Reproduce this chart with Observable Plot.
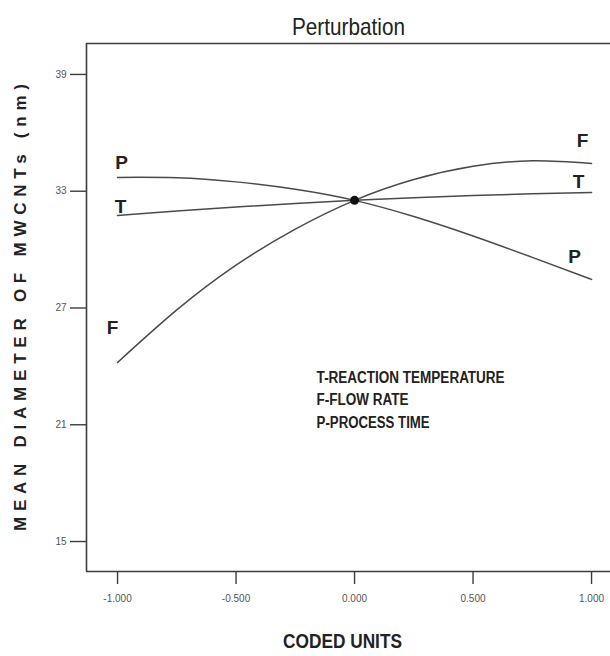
<!DOCTYPE html>
<html>
<head>
<meta charset="utf-8">
<script src="https://cdn.jsdelivr.net/npm/d3@7"></script>
<script src="https://cdn.jsdelivr.net/npm/@observablehq/plot@0.6"></script>
<style>
  html, body { margin: 0; padding: 0; background: #fff; }
  #chart svg { display: block; }
</style>
</head>
<body>
<div id="chart"></div>
<script>
// ---- data ----
const codedUnits = [-1, -0.75, -0.5, -0.25, 0, 0.25, 0.5, 0.75, 1];
const temperature = [31.75, 31.98, 32.19, 32.37, 32.53, 32.67, 32.78, 32.87, 32.94];
const flowRate = [24.2, 26.9, 29.2, 31.05, 32.53, 33.6, 34.28, 34.56, 34.43];
const processTime = [33.71, 33.69, 33.48, 33.1, 32.53, 31.7, 30.7, 29.6, 28.47];
const centerPoint = [{x: 0, y: 32.53}];

const xTicks = [-1, -0.5, 0, 0.5, 1];
const yTicks = [15, 21, 27, 33, 39];
const xDomain = [-1.131, 1.08];
const yDomain = [13.46, 40.59];

// curve end labels (letter, coded unit, value)
const curveLabels = [
  {t: "P", x: -0.983, y: 34.43},
  {t: "T", x: -0.987, y: 32.2},
  {t: "F", x: -1.021, y: 26.0},
  {t: "F", x: 0.962, y: 35.61},
  {t: "T", x: 0.945, y: 33.5},
  {t: "P", x: 0.928, y: 29.6}
];
const legendLines = [
  {t: "T-REACTION TEMPERATURE", x: -0.16, y: 23.43},
  {t: "F-FLOW RATE", x: -0.16, y: 22.3},
  {t: "P-PROCESS TIME", x: -0.16, y: 21.12}
];
const titleText = "Perturbation";
const xLabel = "CODED UNITS";
const yLabel = "MEAN DIAMETER OF MWCNTs (nm)";

const series = [
  {name: "T", values: temperature},
  {name: "F", values: flowRate},
  {name: "P", values: processTime}
];
const lineData = series.flatMap(s => codedUnits.map((x, i) => ({series: s.name, x, y: s.values[i]})));

const sans = "'Liberation Sans', Arial, sans-serif";
const axisColor = "#3c3c3c";

const chart = Plot.plot({
  width: 610,
  height: 656,
  marginTop: 43,
  marginBottom: 85,
  marginLeft: 86,
  marginRight: 0,
  style: {fontFamily: sans, background: "#fff"},
  x: {domain: xDomain},
  y: {domain: yDomain},
  marks: [
    Plot.ruleX([xDomain[0]], {stroke: axisColor, strokeWidth: 1.6}),
    Plot.ruleY([yDomain[0], yDomain[1]], {stroke: axisColor, strokeWidth: 1.6}),
    Plot.axisY({ticks: yTicks, tickSize: 16, tickPadding: 4, fontSize: 10, label: null,
      stroke: axisColor, strokeWidth: 1.4, fill: "#555"}),
    Plot.axisX({ticks: xTicks, tickSize: 13, tickPadding: 10, fontSize: 10, label: null,
      tickFormat: d => d.toFixed(3), stroke: axisColor, strokeWidth: 1.4, fill: "#555"}),
    Plot.line(lineData, {x: "x", y: "y", z: "series", curve: "natural", stroke: "#4a4a4a", strokeWidth: 1.5}),
    Plot.dot(centerPoint, {x: "x", y: "y", r: 4.5, fill: "#111", stroke: "none"}),
    Plot.text(curveLabels, {x: "x", y: "y", text: "t", fontSize: 19, fontWeight: "bold", fill: "#222"}),
    Plot.text(legendLines, {x: "x", y: "y", text: "t", textAnchor: "start", fontSize: 16, fontWeight: "bold",
      fill: "#222"}),
    Plot.text([titleText], {frameAnchor: "top", lineAnchor: "middle", dy: -16, fontSize: 24, fill: "#222"}),
    Plot.text([xLabel], {frameAnchor: "bottom", lineAnchor: "middle", dy: 70, dx: -6, fontSize: 20,
      fontWeight: "bold", fill: "#222"}),
    Plot.text([yLabel], {frameAnchor: "left", textAnchor: "middle", rotate: -90, dx: -66,
      fontSize: 17, fontWeight: "bold", fill: "#222"})
  ]
});

document.getElementById("chart").appendChild(chart);

// fit texts to the widths seen in the reference
const targetWidths = new Map([
  [titleText, [113, "spacingAndGlyphs"]],
  [xLabel, [119, "spacingAndGlyphs"]],
  ["T-REACTION TEMPERATURE", [188, "spacingAndGlyphs"]],
  ["F-FLOW RATE", [92, "spacingAndGlyphs"]],
  ["P-PROCESS TIME", [113, "spacingAndGlyphs"]],
  [yLabel, [447, "spacing"]]
]);
d3.select(chart).selectAll("text").each(function() {
  const spec = targetWidths.get(this.textContent);
  if (!spec) return;
  this.setAttribute("textLength", spec[0]);
  this.setAttribute("lengthAdjust", spec[1]);
});
</script>
</body>
</html>
